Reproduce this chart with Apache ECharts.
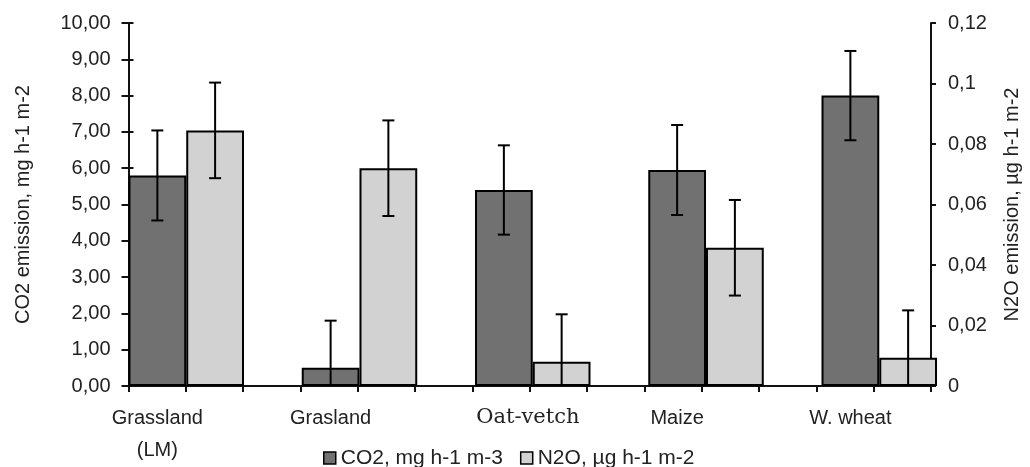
<!DOCTYPE html>
<html>
<head>
<meta charset="utf-8">
<script src="https://cdn.jsdelivr.net/npm/echarts@6/dist/echarts.min.js"></script>
<style>
html,body{margin:0;padding:0;background:#fff;}
#chart{width:1030px;height:467px;}
</style>
</head>
<body>
<div id="chart"></div>
<script>
// ---- data ----
const categories = ['Grassland\n(LM)', 'Grasland', 'Oat-vetch', 'Maize', 'W. wheat'];
const co2Name = 'CO2, mg h-1 m-3';
const n2oName = 'N2O, µg h-1 m-2';
const co2Values = [5.8, 0.5, 5.4, 5.95, 8.0];
const co2Err = [1.24, 1.3, 1.23, 1.24, 1.23];
const n2oValues = [0.0845, 0.072, 0.008, 0.0457, 0.0093];
const n2oErr = [0.0158, 0.0158, 0.0157, 0.0158, 0.0157];
const leftTicks = {min: 0, max: 10, interval: 1};
const rightTicks = {min: 0, max: 0.12, interval: 0.02};

// ---- chart ----
const FONT = '"Liberation Sans", Arial, sans-serif';
const TXT = '#222';
const chart = echarts.init(document.getElementById('chart'), null, {renderer: 'canvas'});

function errBar(sign) {
  return function (params, api) {
    const i = api.value(0);
    const lo = api.coord([i, api.value(1)]);
    const hi = api.coord([i, api.value(2)]);
    const band = api.size([1, 0])[0];
    const x = lo[0] + sign * band / 6;
    const cap = 6;
    const st = {stroke: '#000', lineWidth: 2};
    return {
      type: 'group',
      children: [
        {type: 'line', shape: {x1: x, y1: lo[1], x2: x, y2: hi[1]}, style: st},
        {type: 'line', shape: {x1: x - cap, y1: hi[1], x2: x + cap, y2: hi[1]}, style: st},
        {type: 'line', shape: {x1: x - cap, y1: lo[1], x2: x + cap, y2: lo[1]}, style: st}
      ]
    };
  };
}

const slot = 809 / 14;
const option = {
  animation: false,
  backgroundColor: '#fff',
  textStyle: {fontFamily: FONT, color: TXT},
  grid: [
    {left: 128.5, right: 93, top: 23, bottom: 81},
    {left: 128.5 - slot / 2, right: 93 - slot / 2, top: 23, bottom: 81}
  ],
  legend: {
    data: [co2Name, n2oName],
    left: 318, top: 442,
    icon: 'rect', itemWidth: 12, itemHeight: 12, itemGap: 17,
    itemStyle: {borderWidth: 1.5, borderColor: '#000'},
    textStyle: {fontFamily: FONT, fontSize: 21, color: TXT, lineHeight: 22}
  },
  xAxis: [
    {
      gridIndex: 0, type: 'value', min: 0, max: 14, interval: 1,
      axisLine: {show: true, onZero: false, lineStyle: {color: '#111', width: 2}},
      axisTick: {show: true, length: 6, lineStyle: {color: '#111', width: 2}},
      axisLabel: {show: false}, splitLine: {show: false}
    },
    {
      gridIndex: 1, type: 'category', data: categories,
      axisLine: {show: false}, axisTick: {show: false}, splitLine: {show: false},
      axisLabel: {
        show: true, interval: 0, margin: 16,
        fontFamily: FONT, fontSize: 20, color: TXT, lineHeight: 32,
        padding: [0, slot, 0, 0],
        formatter: function (v) { return v === 'Oat-vetch' ? '{oat|' + v + '}' : v; },
        rich: {oat: {fontFamily: '"DejaVu Serif", "Liberation Serif", serif', fontSize: 21, color: TXT, lineHeight: 32, padding: [0, 0, 0, 48]}}
      }
    }
  ],
  yAxis: [
    {
      gridIndex: 0, type: 'value', position: 'left',
      min: leftTicks.min, max: leftTicks.max, interval: leftTicks.interval,
      name: 'CO2 emission, mg h-1 m-2', nameLocation: 'middle', nameGap: 95, nameRotate: 90,
      nameTextStyle: {fontFamily: FONT, fontSize: 20, color: TXT},
      axisLine: {show: true, lineStyle: {color: '#111', width: 2}},
      axisTick: {show: true, length: 7, lineStyle: {color: '#111', width: 2}},
      axisLabel: {margin: 18, fontFamily: FONT, fontSize: 20, color: TXT,
        formatter: function (v) { return v.toFixed(2).replace('.', ','); }},
      splitLine: {show: false}
    },
    {
      gridIndex: 0, type: 'value', position: 'right',
      min: rightTicks.min, max: rightTicks.max, interval: rightTicks.interval,
      name: 'N2O emission, µg h-1 m-2', nameLocation: 'middle', nameGap: 71, nameRotate: 90,
      nameTextStyle: {fontFamily: FONT, fontSize: 20, color: TXT},
      axisLine: {show: true, lineStyle: {color: '#111', width: 2}},
      axisTick: {show: true, length: 5, lineStyle: {color: '#111', width: 2}},
      axisLabel: {margin: 17, fontFamily: FONT, fontSize: 20, color: TXT,
        formatter: function (v) { return String(Math.round(v * 100) / 100).replace('.', ','); }},
      splitLine: {show: false}
    },
    {
      gridIndex: 0, type: 'value', position: 'left',
      min: leftTicks.min, max: leftTicks.max, interval: leftTicks.interval,
      axisLine: {show: false},
      axisTick: {show: true, inside: true, length: 5, lineStyle: {color: '#111', width: 2}},
      axisLabel: {show: false}, splitLine: {show: false}
    },
    {gridIndex: 1, type: 'value', min: leftTicks.min, max: leftTicks.max, show: false, splitLine: {show: false}},
    {gridIndex: 1, type: 'value', min: rightTicks.min, max: rightTicks.max, show: false, splitLine: {show: false}}
  ],
  series: [
    {
      name: co2Name, type: 'bar', xAxisIndex: 1, yAxisIndex: 3,
      data: co2Values, barGap: '0%', barCategoryGap: '33.333%',
      itemStyle: {color: '#717171', borderColor: '#000', borderWidth: 2}
    },
    {
      name: n2oName, type: 'bar', xAxisIndex: 1, yAxisIndex: 4,
      data: n2oValues, barGap: '0%', barCategoryGap: '33.333%',
      itemStyle: {color: '#d2d2d2', borderColor: '#000', borderWidth: 2}
    },
    {
      name: 'co2-err', type: 'custom', xAxisIndex: 1, yAxisIndex: 3, clip: true, z: 5,
      renderItem: errBar(-1),
      data: co2Values.map(function (v, i) { return [i, v - co2Err[i], v + co2Err[i]]; })
    },
    {
      name: 'n2o-err', type: 'custom', xAxisIndex: 1, yAxisIndex: 4, clip: true, z: 5,
      renderItem: errBar(1),
      data: n2oValues.map(function (v, i) { return [i, v - n2oErr[i], v + n2oErr[i]]; })
    }
  ]
};
chart.setOption(option);
</script>
</body>
</html>
